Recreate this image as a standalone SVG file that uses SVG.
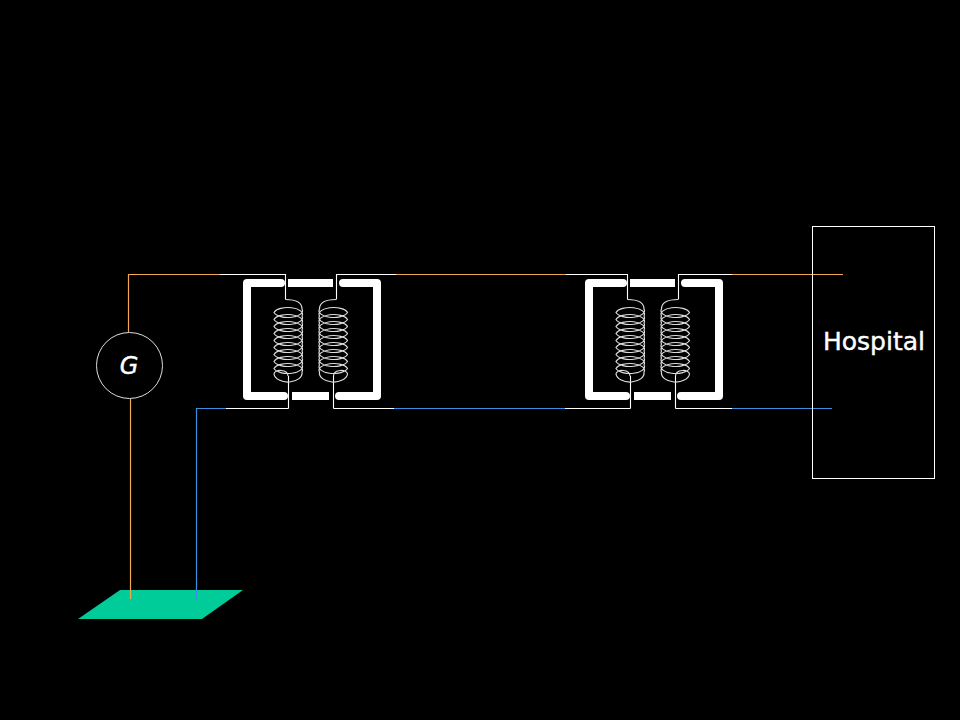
<svg xmlns="http://www.w3.org/2000/svg" xmlns:xlink="http://www.w3.org/1999/xlink" width="960" height="720" viewBox="0 0 960 720">
<style>
.w{fill:none;stroke:#fff;stroke-width:1.100}
.o{fill:none;stroke:#f2a850;stroke-width:1.200}
.b{fill:none;stroke:#3a8fe0;stroke-width:1.200}
.core{fill:none;stroke:#fff;stroke-width:8;stroke-linecap:round;stroke-linejoin:round}
.mid{fill:none;stroke:#fff;stroke-width:8}
.coil{fill:none;stroke:#ddd;stroke-width:1.200}
text{fill:#fff;font-family:"DejaVu Sans",sans-serif;stroke:#fff;stroke-width:.4}
</style>
<defs>
<path id="coilL" class="coil" d="M285.500 299.500c10 0 16.500 3 16.500 9.500a14 6.500 0 0 1 -28 3.500a14 6.500 0 0 1 28 3.500a14 6.500 0 0 1 -28 3.500a14 6.500 0 0 1 28 3.500a14 6.500 0 0 1 -28 3.500a14 6.500 0 0 1 28 3.500a14 6.500 0 0 1 -28 3.500a14 6.500 0 0 1 28 3.500a14 6.500 0 0 1 -28 3.500a14 6.500 0 0 1 28 3.500a14 6.500 0 0 1 -28 3.500a14 6.500 0 0 1 28 3.500a14 6.500 0 0 1 -28 3.500a14 6.500 0 0 1 28 3.500a14 6.500 0 0 1 -28 3.500a14 6.500 0 0 1 28 3.500a14 6.500 0 0 1 -28 3.500a14 6.500 0 0 1 28 3.500a14 9 0 0 1 -28 2c0 -5 14 -5 14 2"/>
<g id="transformer">
<path class="core" d="M281 283H247V396H284M343 283H377V396H339"/>
<path class="mid" d="M288 283H333M292 396H329"/>
<path class="w" d="M285.500 274V299.500M336.500 274V299.500M288.500 376V408.500M333.500 376V408.500"/>
<use xlink:href="#coilL"/>
<use xlink:href="#coilL" transform="translate(621.500 0) scale(-1 1)"/>
</g>
</defs>
<rect width="960" height="720" fill="#000"/>
<g id="ground"><path d="M120 590H243L202 619H78Z" fill="#00cc99"/></g>
<g id="connectors">
<path class="o" d="M128.500 332V274.500H220"/>
<path class="w" d="M220 274.500H285.500"/>
<path class="w" d="M336.500 274.500H396"/>
<path class="o" d="M396 274.500H566"/>
<path class="w" d="M566 274.500H627.500"/>
<path class="w" d="M678.500 274.500H732"/>
<path class="o" d="M732 274.500H843"/>
<path class="o" d="M130.500 399V599"/>
<path class="b" d="M196.500 600V408.500H226"/>
<path class="w" d="M226 408.500H288.500"/>
<path class="w" d="M333.500 408.500H394"/>
<path class="b" d="M394 408.500H565"/>
<path class="w" d="M565 408.500H630.500"/>
<path class="w" d="M675.500 408.500H732"/>
<path class="b" d="M732 408.500H832"/>
</g>
<g id="generator"><circle cx="129.500" cy="365.500" r="33" fill="none" stroke="#ddd" stroke-width="1"/><text x="129" y="374" font-size="24" font-style="italic" text-anchor="middle">G</text></g>
<g id="transformer1"><use xlink:href="#transformer"/></g>
<g id="transformer2"><use xlink:href="#transformer" transform="translate(342 0)"/></g>
<g id="hospital"><rect x="812.500" y="226.500" width="122" height="252" fill="none" stroke="#fff" stroke-width="1"/><text x="823" y="350" font-size="24" textLength="102" lengthAdjust="spacingAndGlyphs">Hospital</text></g>
</svg>
